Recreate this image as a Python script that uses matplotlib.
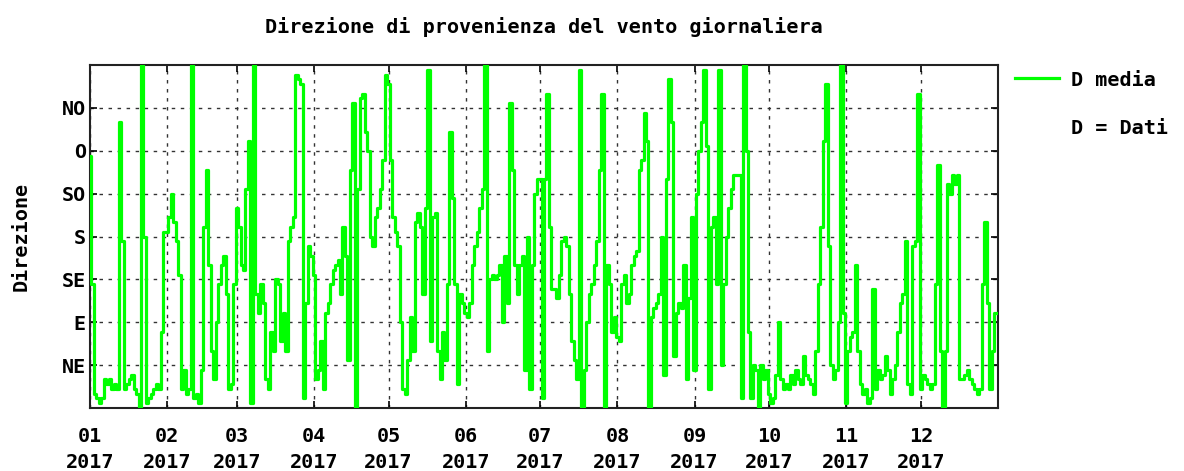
import numpy as np
import pandas as pd
import matplotlib
matplotlib.use('Agg')
import matplotlib.pyplot as plt
import matplotlib.dates as mdates

# daily mean wind direction (degrees)
jan = [265, 130, 15, 10, 5, 10, 30, 25, 30, 20, 25, 20, 300, 175, 20, 25,
       30, 35, 20, 15, 0, 360, 180, 5, 10, 15, 20, 25, 20, 80, 185]
feb = [185, 200, 225, 195, 175, 140, 20, 40, 15, 20, 360, 10, 15, 5, 40,
       190, 250, 150, 60, 30, 90, 130, 150, 160, 120, 20, 25, 130]
mar = [210, 190, 150, 145, 230, 280, 5, 360, 120, 100, 130, 110, 30, 20,
       80, 60, 135, 130, 70, 100, 60, 175, 190, 200, 350, 345, 340, 10,
       110, 170, 160]
apr = [140, 30, 40, 70, 20, 100, 110, 130, 145, 150, 155, 120, 190, 160,
       50, 250, 320, 0, 230, 325, 330, 290, 270, 180, 170, 200, 210, 230,
       260, 350]
may = [340, 260, 200, 185, 170, 90, 20, 15, 50, 95, 60, 195, 205, 190, 120,
       210, 355, 70, 200, 205, 60, 30, 80, 50, 130, 290, 220, 130, 25, 120,
       110]
jun = [100, 95, 110, 150, 170, 185, 210, 230, 360, 60, 135, 140, 135, 140,
       150, 90, 160, 110, 320, 250, 150, 120, 150, 160, 40, 180, 20, 150,
       225, 240]
jul = [240, 10, 240, 330, 190, 125, 125, 115, 140, 175, 180, 170, 120, 70,
       50, 30, 355, 0, 40, 90, 120, 130, 150, 175, 250, 330, 0, 150, 130,
       80, 95]
aug = [75, 70, 130, 140, 110, 120, 150, 160, 165, 250, 260, 310, 280, 0, 95,
       105, 110, 120, 180, 35, 240, 345, 300, 55, 100, 110, 105, 150, 30,
       115, 200]
sep = [40, 225, 270, 300, 355, 275, 20, 190, 200, 130, 355, 45, 130, 180,
       210, 230, 245, 245, 245, 10, 360, 270, 80, 10, 45, 40, 0, 45, 30, 40]
oct_ = [15, 5, 10, 35, 90, 30, 20, 25, 20, 35, 25, 40, 30, 25, 55, 35, 30,
        25, 15, 60, 130, 190, 280, 340, 170, 45, 30, 40, 90, 360, 100]
nov = [5, 60, 75, 80, 150, 60, 25, 15, 20, 5, 10, 125, 20, 40, 30, 35, 55,
       40, 15, 30, 45, 80, 110, 120, 175, 25, 15, 170, 175, 330]
dec = [20, 35, 30, 25, 20, 25, 130, 255, 60, 0, 60, 235, 225, 245, 235, 245,
       30, 30, 35, 40, 30, 25, 20, 15, 20, 130, 195, 110, 20, 60, 100]

d_media = jan + feb + mar + apr + may + jun + jul + aug + sep + oct_ + nov + dec
days = pd.date_range('2017-01-01', periods=len(d_media), freq='D')

dir_ticks = [45, 90, 135, 180, 225, 270, 315]
dir_labels = ['NE', 'E', 'SE', 'S', 'SO', 'O', 'NO']
month_starts = pd.date_range('2017-01-01', '2017-12-01', freq='MS')
month_labels = [f'{m:02d}\n2017' for m in range(1, 13)]

font = {'family': 'DejaVu Sans Mono', 'weight': 'bold', 'size': 14.5}

fig = plt.figure(figsize=(11.84, 4.71), dpi=100)
ax = fig.add_axes([90 / 1184, 1 - 408 / 471, 908 / 1184, 343 / 471])

ax.plot(days, d_media, color='#00ff00', linewidth=2.3, drawstyle='steps-mid',
        label='D media', zorder=3)
ax.plot([], [], color='none', label='D = Dati')

ax.set_xlim(pd.Timestamp('2017-01-01'), pd.Timestamp('2018-01-01'))
ax.set_ylim(0, 360)
ax.set_yticks(dir_ticks)
ax.set_yticklabels(dir_labels, fontdict=font)
ax.set_xticks(month_starts)
ax.set_xticklabels(month_labels, fontdict=font, linespacing=1.45)
ax.tick_params(axis='both', which='major', direction='in', length=5,
               width=1.2, top=True, right=True, colors='black')
ax.tick_params(axis='x', pad=14)
ax.tick_params(axis='y', pad=3)
ax.grid(True, which='major', color='#333333', linestyle=(0, (2.5, 4)),
        linewidth=1.0, zorder=1)
for s in ax.spines.values():
    s.set_linewidth(1.5)
    s.set_color('#222222')

ax.set_ylabel('Direzione', fontdict=font, labelpad=22)
ax.set_title('Direzione di provenienza del vento giornaliera', fontdict=font,
             pad=23)

leg = ax.legend(loc='upper left', bbox_to_anchor=(1.003, 1.025), frameon=False,
                prop={'family': 'DejaVu Sans Mono', 'weight': 'bold',
                      'size': 14.5},
                handlelength=2.2, handletextpad=0.6, labelspacing=1.45,
                borderaxespad=0.3)

fig.savefig('out.png', dpi=100)
